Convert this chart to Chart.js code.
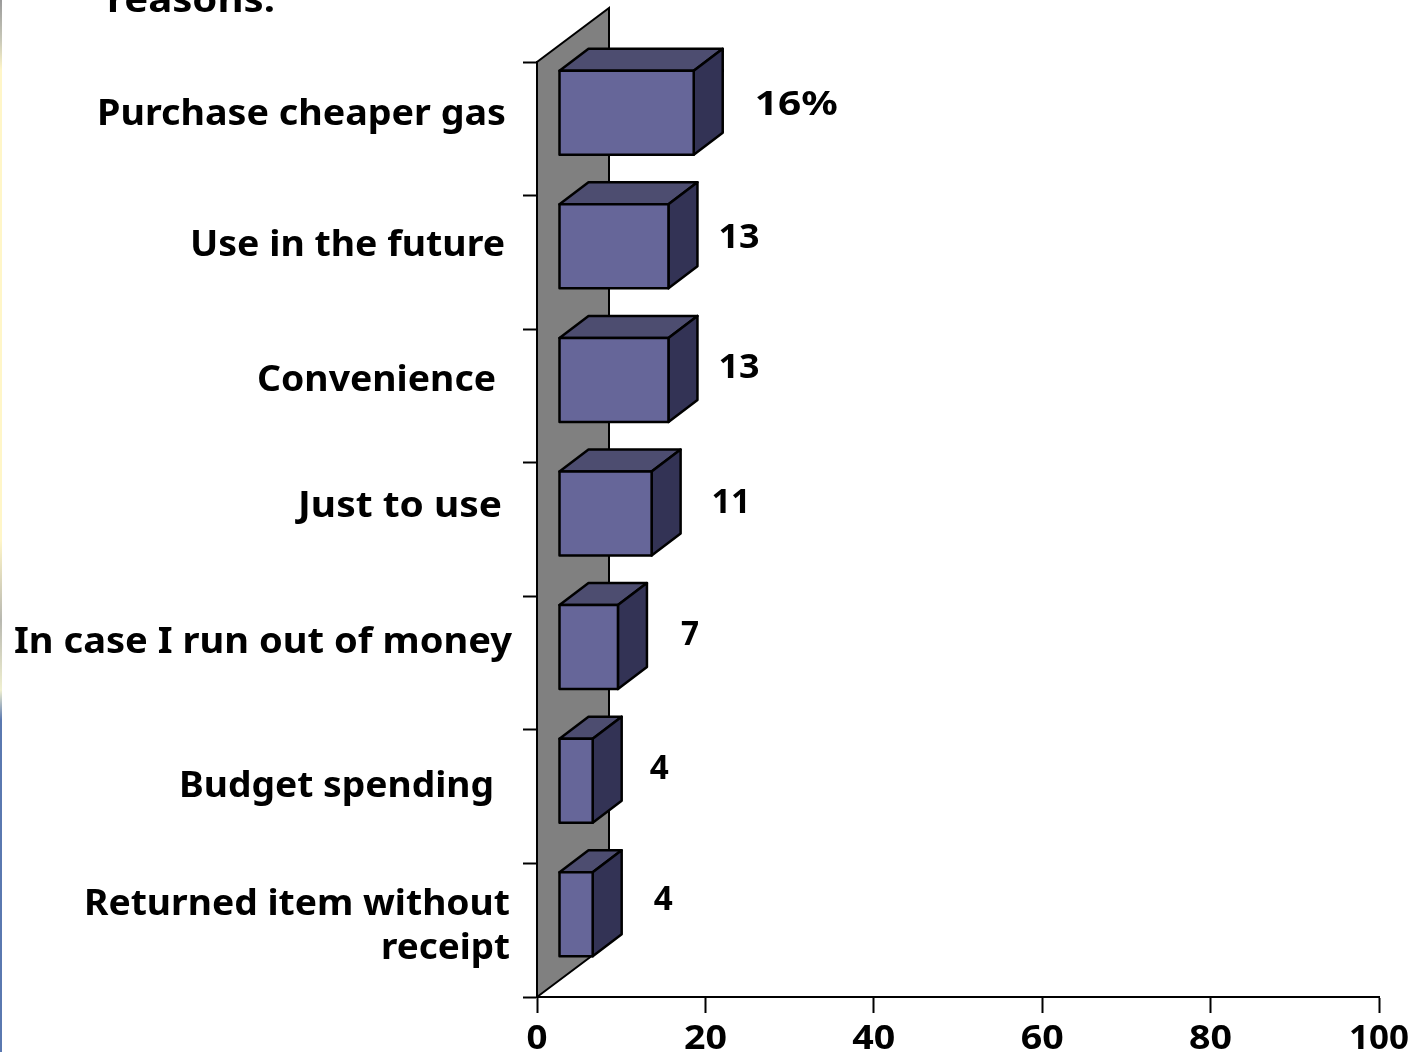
<!DOCTYPE html>
<html>
<head>
<meta charset="utf-8">
<title>Reasons</title>
<script src="https://cdn.jsdelivr.net/npm/chart.js@4"></script>
<style>
  html, body { margin: 0; padding: 0; background: #fff; overflow: hidden; }
  #wrap { position: relative; width: 1421px; height: 1052px; }
  #edge { position: absolute; left: 0; top: 0; width: 2px; height: 1052px;
    background: linear-gradient(to bottom, #9a9a9a 0, #c8c8b8 40px, #fff6c8 70px, #fff6c8 540px,
      #b8b8b0 620px, #f0f0d0 690px, #5a78b0 720px, #5a78b0 1052px); }
  canvas { position: absolute; left: 0; top: 0; }
</style>
</head>
<body>
<div id="wrap">
  <canvas id="c" width="1421" height="1052"></canvas>
  <div id="edge"></div>
</div>
<script>
const headingLine = 'reasons.';
const categories = [
  'Purchase cheaper gas',
  'Use in the future',
  'Convenience',
  'Just to use',
  'In case I run out of money',
  'Budget spending',
  ['Returned item without', 'receipt']
];
const values = [16, 13, 13, 11, 7, 4, 4];
const valueLabels = ['16%', '13', '13', '11', '7', '4', '4'];
const axisTicks = [0, 20, 40, 60, 80, 100];

// Hand placement of the text boxes around the plot
const categoryRight = [506, 505, 496, 502, 512, 494, 510];
const categoryBaseDrop = [-4, -6, -5, -13, -10, 0, -15];
const categoryWidths = [[409], [315], [239], [204], [498], [315], [426, 129]];
const labelGap = [83, 72, 72, 82, 85, 79, 83];
const labelLift = [-26, -26, -30, -29, -30, -30, -32];
const labelWidths = [83, 41, 41, 39, 18, 19, 19];
const axisNumberWidths = [21, 43, 43, 43, 43, 60];

const FONT = 'bold 36px "Noto Sans"';
const NUM_FONT = 'bold 34px "Noto Sans"';
const COLORS = { front: '#666699', top: '#4d4d70', side: '#333355', wall: '#808080', ink: '#000000' };
const EDGE = 2.5;

// Offset of the bars inside the box, and the depth of the box and of each bar
const BAR_SHIFT = { x: 22, y: -16 };
const WALL_DEPTH = { x: 72, y: -54 };
const BAR_DEPTH = { x: 29, y: -22 };

function poly(ctx, pts, fill, stroke, width) {
  ctx.beginPath();
  pts.forEach((p, i) => i ? ctx.lineTo(p[0], p[1]) : ctx.moveTo(p[0], p[1]));
  ctx.closePath();
  if (fill) { ctx.fillStyle = fill; ctx.fill(); }
  if (stroke) { ctx.strokeStyle = stroke; ctx.lineWidth = width; ctx.lineJoin = 'round'; ctx.stroke(); }
}

// Draws a string starting at x, stretched sideways to the given width
function fitText(ctx, text, x, y, width) {
  const natural = ctx.measureText(text).width;
  ctx.save();
  ctx.translate(x, y);
  ctx.scale(width / natural, 1);
  ctx.textAlign = 'left';
  ctx.fillText(text, 0, 0);
  ctx.restore();
}

function barCorners(el) {
  const p = el.getProps(['x', 'y', 'base', 'height'], true);
  return {
    x0: p.base + BAR_SHIFT.x,
    x1: p.x + BAR_SHIFT.x,
    y0: p.y + BAR_SHIFT.y - p.height / 2,
    y1: p.y + BAR_SHIFT.y + p.height / 2
  };
}

const box3d = {
  id: 'box3d',
  beforeDatasetsDraw(chart) {
    const { ctx, chartArea: a } = chart;
    ctx.save();
    // Grey back wall standing on the category axis
    poly(ctx, [[a.left, a.top], [a.left + WALL_DEPTH.x, a.top + WALL_DEPTH.y],
      [a.left + WALL_DEPTH.x, a.bottom + WALL_DEPTH.y], [a.left, a.bottom]], COLORS.wall, null);
    ctx.strokeStyle = COLORS.ink;
    ctx.lineWidth = 2;
    ctx.beginPath();
    ctx.moveTo(a.left, a.bottom);
    ctx.lineTo(a.left, a.top);
    ctx.lineTo(a.left + WALL_DEPTH.x, a.top + WALL_DEPTH.y);
    ctx.lineTo(a.left + WALL_DEPTH.x, a.bottom + WALL_DEPTH.y);
    ctx.lineTo(a.left, a.bottom);
    ctx.stroke();
    // Top and end faces of every bar
    chart.getDatasetMeta(0).data.forEach(el => {
      const { x0, x1, y0, y1 } = barCorners(el);
      const dx = BAR_DEPTH.x, dy = BAR_DEPTH.y;
      poly(ctx, [[x0, y0], [x0 + dx, y0 + dy], [x1 + dx, y0 + dy], [x1, y0]], COLORS.top, COLORS.ink, EDGE);
      poly(ctx, [[x1, y0], [x1 + dx, y0 + dy], [x1 + dx, y1 + dy], [x1, y1]], COLORS.side, COLORS.ink, EDGE);
    });
    ctx.restore();
  },
  beforeDatasetDraw(chart) {
    chart.ctx.save();
    chart.ctx.translate(BAR_SHIFT.x, BAR_SHIFT.y);
  },
  afterDatasetDraw(chart) {
    const { ctx } = chart;
    ctx.restore();
    // Outline of the front faces, centred on the bar edges
    ctx.save();
    chart.getDatasetMeta(0).data.forEach(el => {
      const { x0, x1, y0, y1 } = barCorners(el);
      poly(ctx, [[x0, y0], [x1, y0], [x1, y1], [x0, y1]], null, COLORS.ink, EDGE);
    });
    ctx.restore();
  },
  afterDraw(chart) {
    const { ctx, scales } = chart;
    ctx.save();
    ctx.fillStyle = COLORS.ink;
    ctx.textBaseline = 'alphabetic';

    ctx.font = FONT;
    fitText(ctx, headingLine, 107, 12, 168);

    // Category labels
    categories.forEach((cat, i) => {
      const lines = Array.isArray(cat) ? cat : [cat];
      const cy = scales.y.getPixelForTick(i);
      lines.forEach((line, k) => {
        const w = categoryWidths[i][k];
        fitText(ctx, line, categoryRight[i] - w, cy + categoryBaseDrop[i] + k * 44, w);
      });
    });

    // Value labels beside the bars
    ctx.font = NUM_FONT;
    chart.getDatasetMeta(0).data.forEach((el, i) => {
      fitText(ctx, valueLabels[i], el.x + labelGap[i], el.y + labelLift[i] + 12, labelWidths[i]);
    });

    // Value axis numbers
    scales.x.ticks.forEach((t, i) => {
      const w = axisNumberWidths[i];
      fitText(ctx, String(t.value), scales.x.getPixelForTick(i) - w / 2, 1049, w);
    });
    ctx.restore();
  }
};

new Chart(document.getElementById('c'), {
  type: 'bar',
  data: {
    labels: categories,
    datasets: [{
      data: values,
      backgroundColor: COLORS.front,
      borderWidth: 0,
      barThickness: 84,
      clip: false
    }]
  },
  options: {
    indexAxis: 'y',
    responsive: false,
    animation: false,
    layout: { padding: { left: 0, top: 62, right: 42, bottom: 0 } },
    plugins: { legend: { display: false }, title: { display: false }, tooltip: { enabled: false } },
    scales: {
      x: {
        type: 'linear',
        min: axisTicks[0],
        max: axisTicks[axisTicks.length - 1],
        afterBuildTicks: s => { s.ticks = axisTicks.map(value => ({ value })); },
        afterFit: s => { s.height = 55; },
        ticks: { display: false },
        grid: { drawOnChartArea: false, tickLength: 16, tickColor: COLORS.ink, tickWidth: 2 },
        border: { color: COLORS.ink, width: 2 }
      },
      y: {
        afterFit: s => { s.width = 537; },
        ticks: { display: false },
        grid: { drawOnChartArea: false, tickLength: 14, tickColor: COLORS.ink, tickWidth: 2 },
        border: { color: COLORS.ink, width: 2 }
      }
    }
  },
  plugins: [box3d]
});
</script>
</body>
</html>
